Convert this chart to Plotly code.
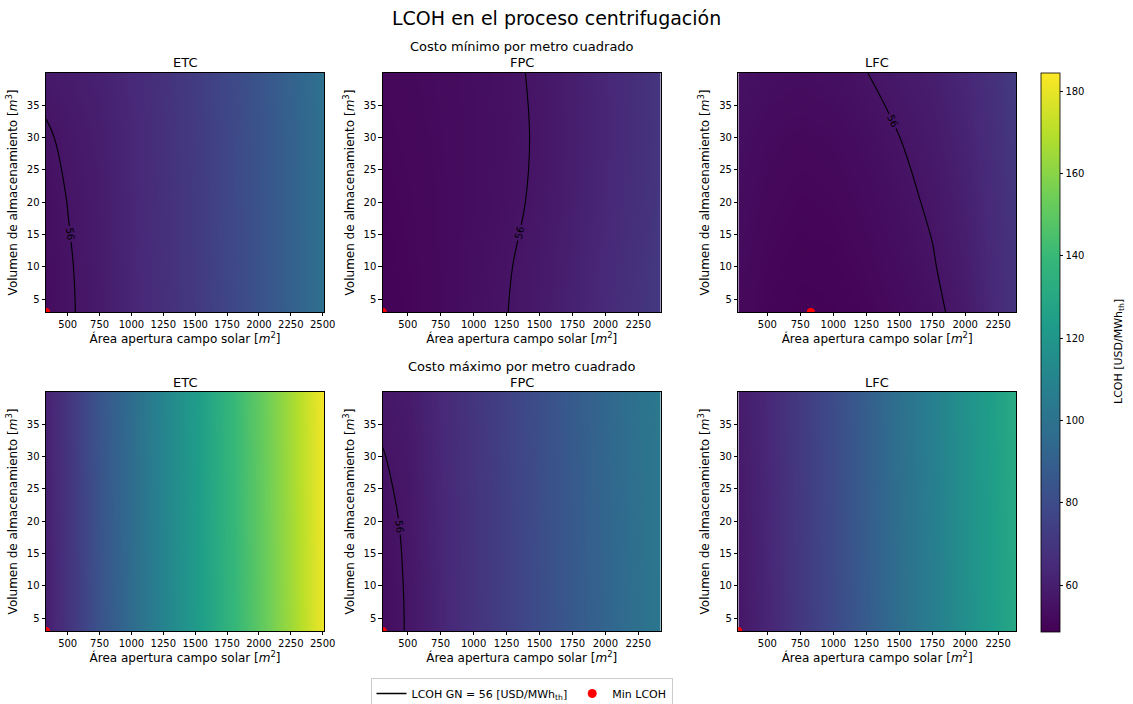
import plotly.graph_objects as go

# ---------------- data ----------------
vol = [3, 10, 20, 30, 40]  # storage volume rows [m3]

area_etc = [330, 500, 750, 1000, 1250, 1500, 1750, 2000, 2250, 2510]
area_fpc = [310, 500, 750, 1000, 1250, 1500, 1750, 2000, 2250, 2420]
area_lfc = [280, 500, 750, 1000, 1250, 1500, 1750, 2000, 2250, 2385]

# LCOH [USD/MWh_th], rows = vol, cols = area
etc_min = [
    [53.0, 55.2, 58.5, 62.5, 66.8, 71.5, 77.0, 83.0, 90.0, 98.0],
    [53.2, 55.4, 58.7, 62.7, 67.0, 71.6, 77.1, 83.1, 90.1, 98.1],
    [53.6, 56.1, 59.0, 62.9, 67.2, 71.8, 77.3, 83.3, 90.3, 98.3],
    [55.2, 57.3, 59.6, 63.3, 67.5, 72.1, 77.6, 83.6, 90.6, 98.6],
    [58.0, 59.0, 60.8, 63.9, 68.0, 72.6, 78.0, 84.0, 91.0, 99.0],
]
fpc_min = [
    [49.5, 50.5, 52.0, 54.0, 55.9, 58.0, 61.0, 64.5, 68.5, 71.5],
    [49.8, 50.7, 52.0, 53.8, 55.6, 57.8, 60.7, 64.2, 68.1, 71.1],
    [50.3, 51.0, 52.0, 53.4, 54.8, 56.9, 60.0, 63.4, 67.2, 70.2],
    [50.8, 51.3, 52.2, 53.3, 54.6, 56.6, 59.7, 63.0, 66.8, 69.8],
    [51.3, 51.7, 52.5, 53.5, 54.8, 56.9, 59.9, 63.2, 67.0, 70.0],
]
lfc_min = [
    [52.0, 50.3, 49.3, 49.5, 50.5, 52.3, 54.3, 58.5, 65.0, 69.0],
    [52.4, 50.7, 49.8, 50.1, 51.3, 53.2, 55.5, 59.4, 65.5, 69.5],
    [53.0, 51.4, 50.6, 51.0, 52.4, 54.5, 56.8, 60.5, 66.3, 70.3],
    [53.8, 52.3, 51.6, 52.1, 53.6, 55.95, 58.2, 61.8, 67.3, 71.3],
    [55.0, 53.8, 53.3, 54.1, 55.9, 58.0, 59.8, 63.2, 68.5, 72.5],
]
etc_max = [
    [59.5, 68.5, 83.5, 95.5, 109.5, 121.5, 135.5, 149.5, 164.5, 181.5],
    [59.7, 68.7, 83.7, 95.7, 109.7, 121.7, 135.7, 149.7, 164.7, 181.7],
    [60.0, 69.0, 84.0, 96.0, 110.0, 122.0, 136.0, 150.0, 165.0, 182.0],
    [60.4, 69.3, 84.3, 96.3, 110.3, 122.3, 136.3, 150.3, 165.3, 182.3],
    [60.8, 69.6, 84.6, 96.6, 110.6, 122.6, 136.6, 150.6, 165.6, 182.6],
]
fpc_max = [
    [53.5, 56.4, 62.5, 68.5, 74.5, 80.5, 86.5, 92.5, 98.5, 102.5],
    [53.7, 56.5, 62.6, 68.6, 74.6, 80.6, 86.6, 92.6, 98.6, 102.6],
    [54.4, 56.9, 62.9, 68.8, 74.8, 80.8, 86.8, 92.8, 98.8, 102.8],
    [55.8, 57.4, 63.4, 69.2, 75.1, 81.1, 87.1, 93.1, 99.1, 103.1],
    [57.2, 58.5, 64.0, 69.7, 75.5, 81.5, 87.5, 93.5, 99.5, 103.5],
]
lfc_max = [
    [57.0, 62.5, 71.0, 79.0, 88.0, 97.5, 106.5, 116.0, 125.0, 130.0],
    [57.3, 62.7, 71.2, 79.2, 88.2, 97.7, 106.7, 116.2, 125.3, 130.3],
    [57.8, 63.0, 71.5, 79.5, 88.5, 98.0, 107.0, 116.5, 125.7, 130.7],
    [58.4, 63.4, 71.8, 79.8, 88.8, 98.3, 107.3, 116.8, 126.0, 131.0],
    [59.0, 63.8, 72.2, 80.2, 89.2, 98.7, 107.7, 117.2, 126.5, 131.5],
]

# minimum LCOH locations per panel (ETC, FPC, LFC min; ETC, FPC, LFC max)
min_area = [330, 310, 830, 330, 310, 280]
min_vol = [3, 3, 3, 3, 3, 3]

lcoh_gn = 56
panel_names = ["ETC", "FPC", "LFC", "ETC", "FPC", "LFC"]
x_ticks = [500, 750, 1000, 1250, 1500, 1750, 2000, 2250, 2500]
y_ticks = [5, 10, 15, 20, 25, 30, 35]
cbar_ticks = [60, 80, 100, 120, 140, 160, 180]
z_min, z_max = 48.6, 184.4

# ---------------- figure ----------------
W, H = 1133, 704
FONT = "DejaVu Sans"

# plot area (pixels) = bounding box of all six panels
PL, PR, PT, PB = 46, 1016, 73, 631
PW, PH = PR - PL, PB - PT

def fx(px):
    return (px - PL) / PW

def fy(py):
    return (PB - py) / PH

panels = [
    (area_etc, etc_min), (area_fpc, fpc_min), (area_lfc, lfc_min),
    (area_etc, etc_max), (area_fpc, fpc_max), (area_lfc, lfc_max),
]

col_px = [(46, 324), (382.7, 660.7), (738.3, 1016)]
row_px = [(73, 312), (392, 631)]

fig = go.Figure()
layout_axes = {}

for i, (ax_x, z) in enumerate(panels):
    r, c = divmod(i, 3)
    xn = "x" if i == 0 else f"x{i+1}"
    yn = "y" if i == 0 else f"y{i+1}"
    fig.add_trace(go.Heatmap(
        x=ax_x, y=vol, z=z, coloraxis="coloraxis", zsmooth="best",
        xaxis=xn, yaxis=yn, hoverinfo="skip", showlegend=False))
    fig.add_trace(go.Contour(
        x=ax_x, y=vol, z=z, xaxis=xn, yaxis=yn, showscale=False,
        autocontour=False, contours=dict(start=lcoh_gn, end=lcoh_gn, size=1,
                                         coloring="none", showlabels=True,
                                         labelfont=dict(size=10, color="black", family=FONT)),
        line=dict(color="black", width=1.1), hoverinfo="skip", showlegend=False))
    fig.add_trace(go.Scatter(
        x=[min_area[i]], y=[min_vol[i]], mode="markers", xaxis=xn, yaxis=yn,
        marker=dict(color="red", size=8), cliponaxis=True,
        name="Min LCOH", showlegend=False, hoverinfo="skip"))

    x0, x1 = col_px[c]
    y0, y1 = row_px[r]
    xkey = "xaxis" if i == 0 else f"xaxis{i+1}"
    ykey = "yaxis" if i == 0 else f"yaxis{i+1}"
    layout_axes[xkey] = dict(
        domain=[max(0, fx(x0)), min(1, fx(x1))], anchor=yn, range=[ax_x[0], ax_x[-1]],
        tickvals=x_ticks, ticks="outside", ticklen=3.5, tickwidth=0.8, tickcolor="black",
        showline=True, mirror=True, linecolor="black", linewidth=0.8,
        showgrid=False, zeroline=False, tickfont=dict(size=10, color="black"),
        automargin=False,
        title=dict(text="Área apertura campo solar [<i>m</i><sup>2</sup>]",
                   font=dict(size=12, color="black"), standoff=4))
    layout_axes[ykey] = dict(
        domain=[max(0, fy(y1)), min(1, fy(y0))], anchor=xn, range=[3, 40],
        tickvals=y_ticks, ticks="outside", ticklen=3.5, tickwidth=0.8, tickcolor="black",
        showline=True, mirror=True, linecolor="black", linewidth=0.8,
        showgrid=False, zeroline=False, tickfont=dict(size=10, color="black"),
        automargin=False,
        title=dict(text="Volumen de almacenamiento [<i>m</i><sup>3</sup>]",
                   font=dict(size=12, color="black"), standoff=6))

# legend entries
fig.add_trace(go.Scatter(x=[None], y=[None], mode="lines", line=dict(color="black", width=1.5),
                         name="LCOH GN = 56 [USD/MWh<sub>th</sub>]", showlegend=True))
fig.add_trace(go.Scatter(x=[None], y=[None], mode="markers", marker=dict(color="red", size=9),
                         name="Min LCOH", showlegend=True))

annotations = []
def ann(text, xpx, ypx, size, angle=0):
    annotations.append(dict(text=text, x=fx(xpx), y=fy(ypx), xref="paper", yref="paper",
                            showarrow=False, xanchor="center", yanchor="middle",
                            textangle=angle,
                            font=dict(size=size, color="black", family=FONT)))

ann("LCOH en el proceso centrifugación", 556, 18, 19)
ann("Costo mínimo por metro cuadrado", 521.5, 47, 13)
ann("Costo máximo por metro cuadrado", 521.5, 366, 13)
for r in range(2):
    for c in range(3):
        x0, x1 = col_px[c]
        ann(panel_names[r * 3 + c], (x0 + x1) / 2, row_px[r][0] - 10, 13)
ann("LCOH [USD/MWh<sub>th</sub>]", 1119, 352, 11, angle=-90)

fig.update_layout(
    width=W, height=H, margin=dict(l=PL, r=W - PR, t=PT, b=H - PB, autoexpand=False),
    paper_bgcolor="white", plot_bgcolor="white",
    font=dict(family=FONT, color="black"),
    annotations=annotations,
    coloraxis=dict(
        colorscale="Viridis", cmin=z_min, cmax=z_max,
        colorbar=dict(
            x=fx(1041), xanchor="left", y=fy(352.5), yanchor="middle",
            len=559, lenmode="pixels", thickness=19, thicknessmode="pixels",
            xpad=0, ypad=0,
            outlinecolor="black", outlinewidth=0.8,
            tickvals=cbar_ticks, ticks="outside", ticklen=3.5, tickcolor="black",
            tickfont=dict(size=10, color="black"),
        )),
    legend=dict(orientation="h", x=521.5 / W, xanchor="center", xref="container",
                y=1 - 678 / H, yanchor="top", yref="container",
                bordercolor="#cccccc", borderwidth=1, bgcolor="white",
                font=dict(size=11, color="black")),
    **layout_axes,
)

fig.write_html("out.html")
